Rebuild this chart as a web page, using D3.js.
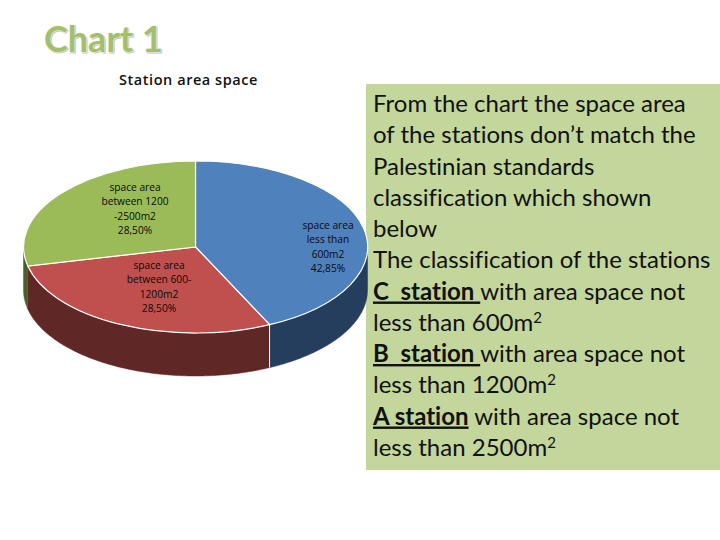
<!DOCTYPE html>
<html>
<head>
<meta charset="utf-8">
<script src="https://cdn.jsdelivr.net/npm/d3@7"></script>
<style>
  html, body { margin: 0; padding: 0; background: #fff; }
  svg { display: block; }
</style>
</head>
<body>
<div id="canvas"></div>
<script>
// slices, clockwise from the top of the pie
var sliceValues = [42.85, 28.50, 28.50]
var sliceLabels = [
    ["space area", "less than", "600m2", "42,85%"],
    ["space area", "between 600-", "1200m2", "28,50%"],
    ["space area", "between 1200", "-2500m2", "28,50%"]
]
var topColors = ["#4f81bd", "#c0504d", "#9bbb59"]
var sideColors = ["#263e5e", "#5f2725", "#4d5d2c"]

var pageTitle = "Chart 1"
var chartTitle = "Station area space"

// each line is a list of [text, style], style: "", "u" (bold underlined), "s" (superscript)
var panelLines = [
    [["From the chart the space area", ""]],
    [["of the stations don\u2019t match the", ""]],
    [["Palestinian standards", ""]],
    [["classification which shown", ""]],
    [["below", ""]],
    [["The classification of the stations", ""]],
    [["C\u00a0\u00a0station\u00a0", "u"], ["with area space not", ""]],
    [["less than 600m", ""], ["2", "s"]],
    [["B\u00a0\u00a0station\u00a0", "u"], ["with area space not", ""]],
    [["less than 1200m", ""], ["2", "s"]],
    [["A station", "u"], ["\u00a0with area space not", ""]],
    [["less than 2500m", ""], ["2", "s"]]
]

var width = 720
var height = 540

var cx = 195.5
var cy = 247
var rx = 172
var ry = 86
var depth = 43

var svg = d3.select("#canvas")
    .append("svg")
    .attr("width", width)
    .attr("height", height)

// text panel
svg.append("rect")
    .attr("x", 366)
    .attr("y", 84)
    .attr("width", 354)
    .attr("height", 386)
    .attr("fill", "#c3d69b")

var panelText = svg.append("g")
    .attr("font-family", "Lato, 'Open Sans', sans-serif")
    .attr("font-size", 24)
    .attr("fill", "#111")
    .style("font-variant-ligatures", "none")

panelLines.forEach(function (line, i) {
    var t = panelText.append("text")
        .attr("x", 373)
        .attr("y", 112 + i * 31.25)
    line.forEach(function (seg) {
        var s = t.append("tspan").text(seg[0])
        if (seg[1] == "u") {
            s.attr("font-weight", "bold").attr("text-decoration", "underline")
        }
        if (seg[1] == "s") {
            s.attr("font-size", 15).attr("dy", -8)
        }
    })
})

// titles, the heading has a pale outline and a thin grey shadow
svg.append("text")
    .attr("x", 45)
    .attr("y", 53)
    .attr("font-family", "Lato, sans-serif")
    .attr("font-weight", "bold")
    .attr("font-size", 36)
    .attr("fill", "#c4c4c4")
    .attr("stroke", "#c4c4c4")
    .attr("stroke-width", 0.8)
    .text(pageTitle)

svg.append("text")
    .attr("x", 44)
    .attr("y", 52)
    .attr("font-family", "Lato, sans-serif")
    .attr("font-weight", "bold")
    .attr("font-size", 36)
    .attr("fill", "#a3bf6c")
    .attr("stroke", "#f4f6ec")
    .attr("stroke-width", 1)
    .attr("paint-order", "stroke")
    .text(pageTitle)

svg.append("text")
    .attr("x", 188.5)
    .attr("y", 84.5)
    .attr("text-anchor", "middle")
    .attr("font-family", "'Open Sans', sans-serif")
    .attr("font-weight", 600)
    .attr("font-size", 14.5)
    .attr("letter-spacing", 0.55)
    .attr("fill", "#111")
    .text(chartTitle)

// pie, top surface is a circle squashed into an ellipse
var pie = d3.pie().sort(null)
var slices = pie(sliceValues)
var arc = d3.arc().innerRadius(0).outerRadius(1)

function edgeX(a) { return cx + rx * Math.sin(a) }
function edgeY(a) { return cy - ry * Math.cos(a) }

var wall = d3.area()
    .x(edgeX)
    .y0(edgeY)
    .y1(function (a) { return edgeY(a) + depth })

// only the part of the rim facing the viewer gets a wall
slices.forEach(function (d, i) {
    var a0 = Math.max(d.startAngle, Math.PI / 2)
    var a1 = Math.min(d.endAngle, Math.PI * 1.5)
    if (a1 <= a0) return
    var angles = d3.range(a0, a1, 0.01).concat([a1])
    svg.append("path")
        .attr("d", wall(angles))
        .attr("fill", sideColors[i])
        .attr("stroke", sideColors[i])
        .attr("stroke-width", 0.5)
})

// white seam where blue and red walls meet
var seam = slices[0].endAngle
svg.append("line")
    .attr("x1", edgeX(seam))
    .attr("y1", edgeY(seam))
    .attr("x2", edgeX(seam))
    .attr("y2", edgeY(seam) + depth)
    .attr("stroke", "#fff")
    .attr("stroke-width", 1)

var pieTop = svg.append("g")
    .attr("transform", "translate(" + cx + "," + cy + ") scale(" + rx + "," + ry + ")")

pieTop.selectAll(".slice")
    .data(slices)
    .enter()
    .append("path")
    .attr("class", "slice")
    .attr("d", arc)
    .attr("fill", function (d, i) { return topColors[i] })
    .attr("stroke", "#fff")
    .attr("stroke-width", 1.2)
    .attr("vector-effect", "non-scaling-stroke")

// slice labels
var labelCenters = [[328, 229], [159, 269], [135, 191]]

sliceLabels.forEach(function (lines, i) {
    var t = svg.append("text")
        .attr("text-anchor", "middle")
        .attr("font-family", "'Open Sans', sans-serif")
        .attr("font-weight", 500)
        .attr("font-size", 10.2)
        .attr("fill", "#0a0a0a")
    lines.forEach(function (s, j) {
        t.append("tspan")
            .attr("x", labelCenters[i][0])
            .attr("y", labelCenters[i][1] + j * 14.3)
            .text(s)
    })
})
</script>
</body>
</html>
